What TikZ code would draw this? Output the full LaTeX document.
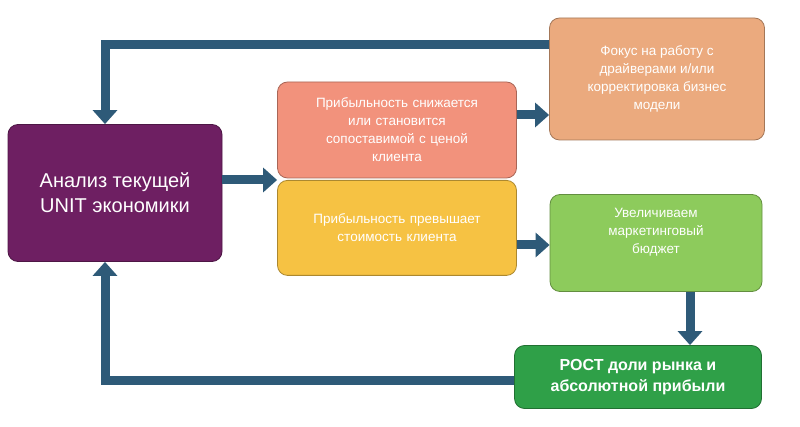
\documentclass[tikz,border=0pt]{standalone}
\usepackage{fontspec}
\setmainfont{Liberation Sans}
\usetikzlibrary{arrows.meta}
\definecolor{arr}{HTML}{2E5A78}
\begin{document}
\begin{tikzpicture}[x=1pt,y=-1pt,
 box/.style={draw=#1!70!black,line width=0.8pt,fill=#1,rounded corners=10pt,text=white,align=center,font=\fontsize{13.5}{18}\selectfont,inner sep=4pt},
 conn/.style={draw=arr,line width=9pt,-{Triangle[width=24pt,length=14pt]}}]
\useasboundingbox (0,0) rectangle (800,427);
\definecolor{cpur}{HTML}{6E1F62}
\definecolor{csal}{HTML}{F2927C}
\definecolor{ctan}{HTML}{EBAA7E}
\definecolor{cyel}{HTML}{F6C243}
\definecolor{clg}{HTML}{8DCB5C}
\definecolor{cdg}{HTML}{2FA048}
\node[box=cpur,minimum width=214pt,minimum height=137pt,font=\fontsize{20}{25}\selectfont] (a) at (115,193) {Анализ текущей\\UNIT  экономики};
\node[box=csal,minimum width=239pt,minimum height=96pt,text width=225pt] (s) at (397,130) {Прибыльность снижается\\или становится\\сопоставимой с ценой\\клиента};
\node[box=cyel,minimum width=239pt,minimum height=95pt,text width=225pt,anchor=north] (y) at (397,180) {Прибыльность превышает\\стоимость клиента\\[18pt]};
\node[box=ctan,minimum width=215pt,minimum height=122pt] (t) at (657,79) {Фокус на работу с\\драйверами и/или\\корректировка бизнес\\модели};
\node[box=clg,minimum width=212pt,minimum height=97pt] (g) at (656,243) {Увеличиваем\\маркетинговый\\бюджет\\[6pt]};
\node[box=cdg,minimum width=247pt,minimum height=63pt,font=\bfseries\fontsize{16}{21}\selectfont] (d) at (638,377) {РОСТ доли рынка и\\абсолютной прибыли};
\coordinate (c1) at (105,45);
\coordinate (c2) at (105,380);
\draw[conn] (a.east|-0,180) -- (s.west|-0,180);
\draw[conn] (s.east|-0,115) -- (t.west|-0,115);
\draw[conn] (y.east|-0,245) -- (g.west|-0,245);
\draw[conn] (g.south-|690,0) -- (d.north-|690,0);
\draw[conn] (t.west|-c1) -- (c1) -- (a.north-|c1);
\draw[conn] (d.west|-c2) -- (c2) -- (a.south-|c2);
\end{tikzpicture}
\end{document}
